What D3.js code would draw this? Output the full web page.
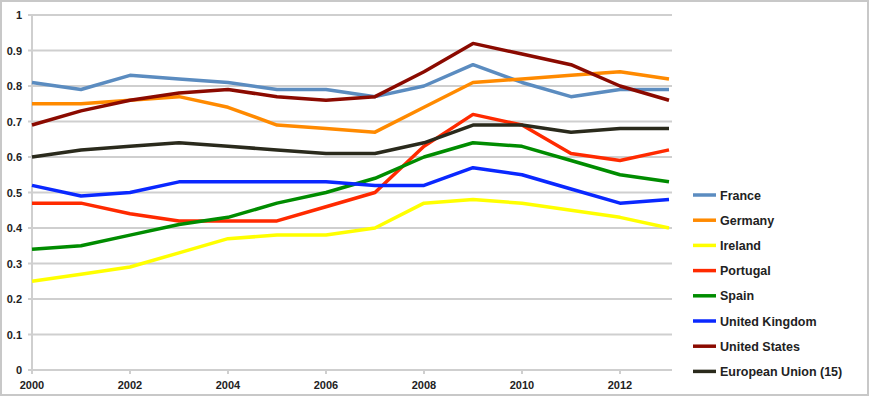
<!DOCTYPE html>
<meta charset="utf-8">
<head>
	<title>line chart</title>
</head>
<style>
body { margin: 0; background: #fff; }
svg { display: block; font-family: "Liberation Sans", Arial, sans-serif; }
.frame { fill: none; stroke: #c8c8c8; stroke-width: 2; }
.grid line { stroke: #cfcfcf; stroke-width: 2; }
.tick-label { font-size: 11px; font-weight: bold; fill: #222; }
.series { fill: none; stroke-width: 3.5; stroke-linejoin: round; }
.legend text { font-size: 12.5px; font-weight: bold; fill: #222; }
</style>
<body>
<svg width="870" height="397"></svg>

<script src="https://cdnjs.cloudflare.com/ajax/libs/d3/7.8.5/d3.min.js"></script>
<script>

var years = [2000, 2001, 2002, 2003, 2004, 2005, 2006, 2007, 2008, 2009, 2010, 2011, 2012, 2013];
var xTicks = [2000, 2002, 2004, 2006, 2008, 2010, 2012];
var yTicks = [0, 0.1, 0.2, 0.3, 0.4, 0.5, 0.6, 0.7, 0.8, 0.9, 1];

var france   = [0.81, 0.79, 0.83, 0.82, 0.81, 0.79, 0.79, 0.77, 0.80, 0.86, 0.81, 0.77, 0.79, 0.79];
var germany  = [0.75, 0.75, 0.76, 0.77, 0.74, 0.69, 0.68, 0.67, 0.74, 0.81, 0.82, 0.83, 0.84, 0.82];
var ireland  = [0.25, 0.27, 0.29, 0.33, 0.37, 0.38, 0.38, 0.40, 0.47, 0.48, 0.47, 0.45, 0.43, 0.40];
var portugal = [0.47, 0.47, 0.44, 0.42, 0.42, 0.42, 0.46, 0.50, 0.63, 0.72, 0.69, 0.61, 0.59, 0.62];
var spain    = [0.34, 0.35, 0.38, 0.41, 0.43, 0.47, 0.50, 0.54, 0.60, 0.64, 0.63, 0.59, 0.55, 0.53];
var uk       = [0.52, 0.49, 0.50, 0.53, 0.53, 0.53, 0.53, 0.52, 0.52, 0.57, 0.55, 0.51, 0.47, 0.48];
var us       = [0.69, 0.73, 0.76, 0.78, 0.79, 0.77, 0.76, 0.77, 0.84, 0.92, 0.89, 0.86, 0.80, 0.76];
var eu15     = [0.60, 0.62, 0.63, 0.64, 0.63, 0.62, 0.61, 0.61, 0.64, 0.69, 0.69, 0.67, 0.68, 0.68];

var names  = ['France', 'Germany', 'Ireland', 'Portugal', 'Spain', 'United Kingdom', 'United States', 'European Union (15)'];
var values = [france, germany, ireland, portugal, spain, uk, us, eu15];
var colors = ['#5b8cc0', '#ff8a00', '#ffff00', '#ff2a00', '#008c00', '#0a28ff', '#8b0a00', '#2a2a1c'];

var svg = d3.select('svg');

// outer frame
svg.append('rect').attr('class', 'frame')
	.attr('x', 1).attr('y', 1).attr('width', 867).attr('height', 394);

var x = d3.scaleLinear().domain([2000, 2013]).range([32, 669]);
var y = d3.scaleLinear().domain([0, 1]).range([370, 15]);

// horizontal grid + y labels
var grid = svg.append('g').attr('class', 'grid');
grid.selectAll('line.h')
	.data(yTicks)
	.enter()
	.append('line')
	.attr('x1', 28).attr('x2', 672)
	.attr('y1', function(d){ return y(d); })
	.attr('y2', function(d){ return y(d); });

// y axis line
grid.append('line')
	.attr('x1', x(2000)).attr('x2', x(2000))
	.attr('y1', y(1)).attr('y2', y(0));

// x ticks
grid.selectAll('line.xt')
	.data(xTicks)
	.enter()
	.append('line')
	.attr('x1', function(d){ return x(d); })
	.attr('x2', function(d){ return x(d); })
	.attr('y1', y(0)).attr('y2', y(0) + 4);

svg.selectAll('text.yl')
	.data(yTicks)
	.enter()
	.append('text')
	.attr('class', 'tick-label')
	.attr('x', 22)
	.attr('y', function(d){ return y(d) + 4; })
	.attr('text-anchor', 'end')
	.text(function(d){ return d; });

svg.selectAll('text.xl')
	.data(xTicks)
	.enter()
	.append('text')
	.attr('class', 'tick-label')
	.attr('x', function(d){ return x(d); })
	.attr('y', 389)
	.attr('text-anchor', 'middle')
	.text(function(d){ return d; });

// lines
var lineGenerator = d3.line()
	.x(function(d, i){ return x(years[i]); })
	.y(function(d){ return y(d); });

svg.selectAll('path.series')
	.data(values)
	.enter()
	.append('path')
	.attr('class', 'series')
	.attr('stroke', function(d, i){ return colors[i]; })
	.attr('d', lineGenerator);

// legend
var legend = svg.append('g').attr('class', 'legend')
	.selectAll('g')
	.data(names)
	.enter()
	.append('g')
	.attr('transform', function(d, i){ return 'translate(693,' + (195 + i * 25.2) + ')'; });

legend.append('line')
	.attr('x1', 0).attr('x2', 23)
	.attr('y1', 0).attr('y2', 0)
	.attr('stroke-width', 3.5)
	.attr('stroke', function(d, i){ return colors[i]; });

legend.append('text')
	.attr('x', 27)
	.attr('y', 4.5)
	.text(function(d){ return d; });

</script>
</body>
</html>
